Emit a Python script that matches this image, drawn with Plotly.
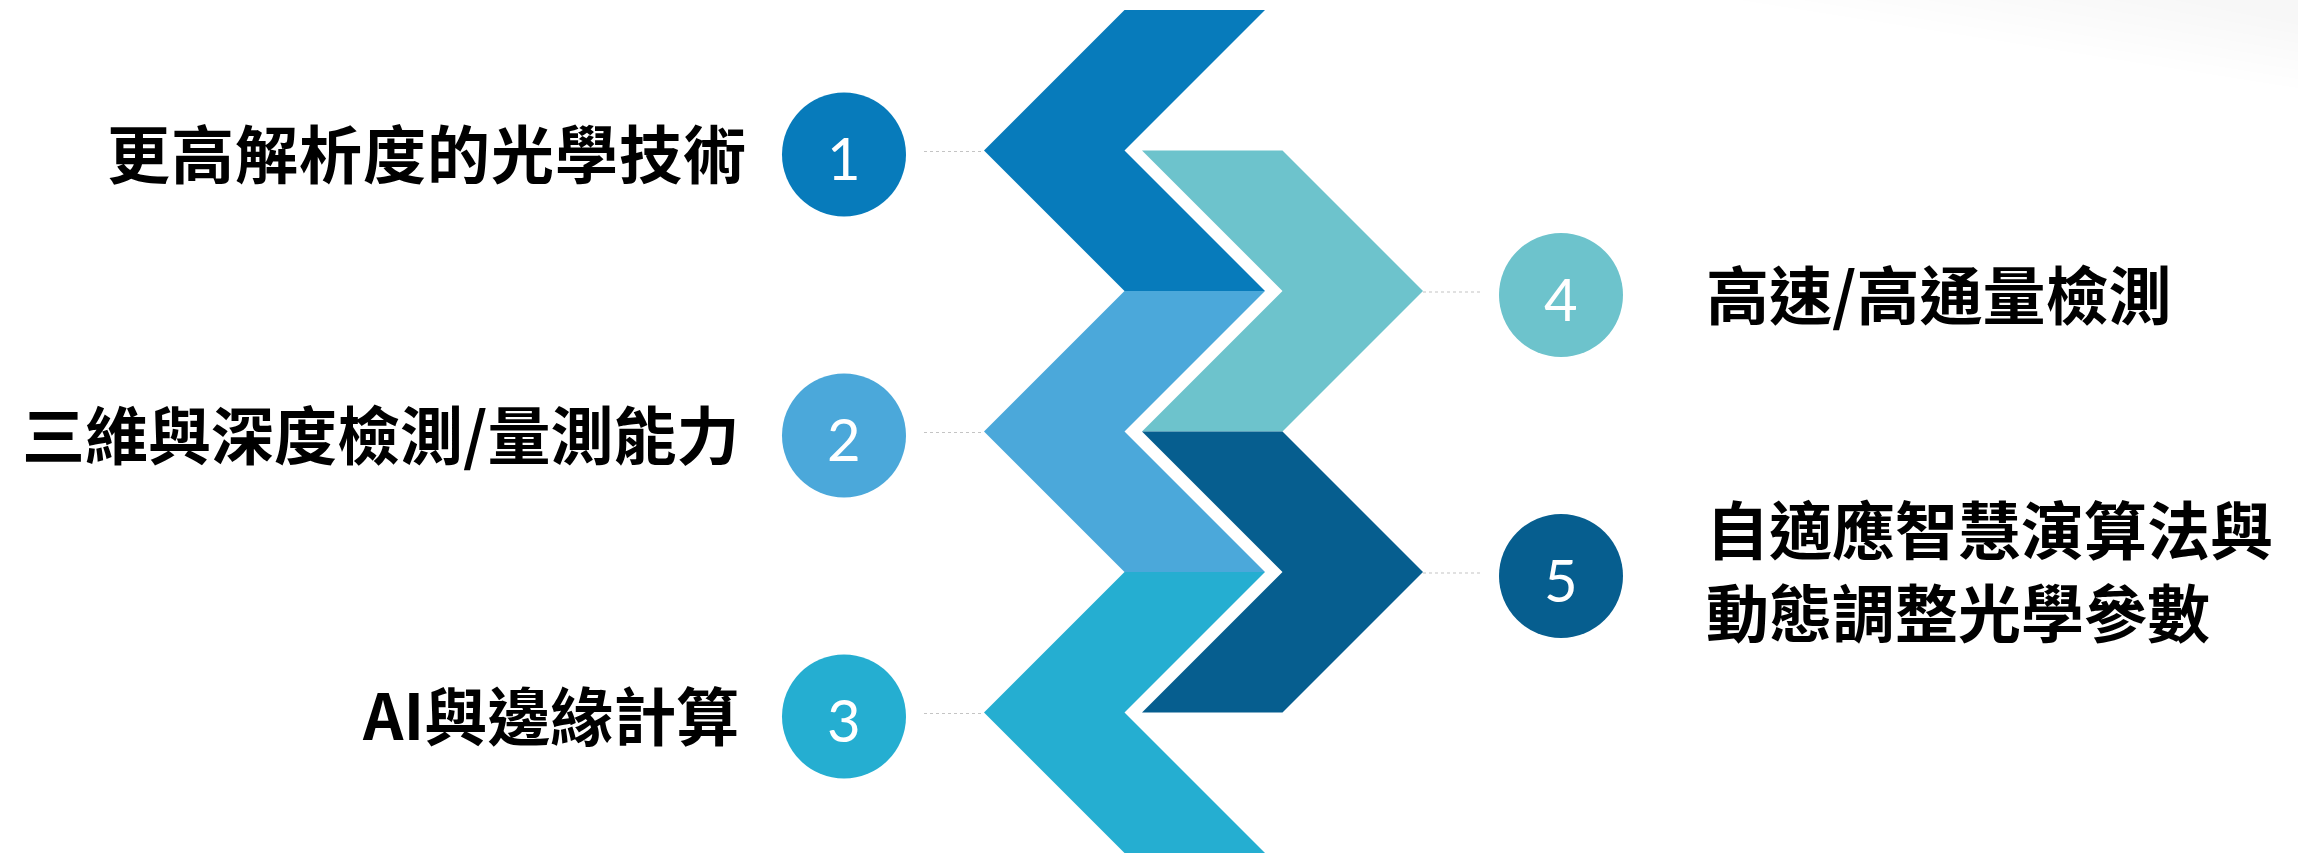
import plotly.graph_objects as go

# ---------------- data ----------------
step_numbers = ["1", "2", "3", "4", "5"]
step_labels = [
    "更高解析度的光學技術",
    "三維與深度檢測/量測能力",
    "AI與邊緣計算",
    "高速/高通量檢測",
    "自適應智慧演算法與<br>動態調整光學參數",
]
step_sides = ["left", "left", "left", "right", "right"]
step_slots = [0, 2, 4, 1, 3]          # vertical zig-zag slot of each step
step_colors = ["#077BBB", "#4BA8DA", "#25AED1", "#6DC3CC", "#065E8F"]

# ---------------- layout constants ----------------
W_PX, H_PX = 2298, 853
SLOT_Y0 = 150.5      # y of first chevron tip
SLOT_DY = 140.5      # vertical distance between zig-zag slots
ARM = 140.5          # chevron arm width / half height
LEFT_TIP_X = 984
RIGHT_TIP_X = 1423
LEFT_CIRCLE_X = 844
RIGHT_CIRCLE_X = 1561
LEFT_LINE_X0 = 924
RIGHT_LINE_X1 = 1481
LEFT_TEXT_X = 741
RIGHT_TEXT_X = 1704
LINE_GAP = 83        # line pitch of two-line labels

CJK = "Noto Sans CJK TC, Noto Sans CJK SC, sans-serif"
LABEL_FONT = dict(family=CJK, size=63, color="#000000", weight="bold")

fig = go.Figure()

# faint grey sheen in the top-right corner of the slide
for k in range(8):
    x0 = 1740 + k * 62
    h = 88 - k * 9
    fig.add_shape(type="path", xref="x", yref="y", layer="below",
                  path=f"M {x0},0 L {W_PX},0 L {W_PX},{h} Z",
                  fillcolor="rgba(110,110,135,0.009)", line=dict(width=0))

for num, lab, side, slot, col in zip(step_numbers, step_labels, step_sides, step_slots, step_colors):
    ty = SLOT_Y0 + slot * SLOT_DY
    if side == "left":
        t = LEFT_TIP_X
        xs = [t + ARM, t + 2 * ARM, t + ARM, t + 2 * ARM, t + ARM, t, t + ARM]
        ys = [ty - ARM, ty - ARM, ty, ty + ARM, ty + ARM, ty, ty - ARM]
        lx = [LEFT_LINE_X0, t]
        cx = LEFT_CIRCLE_X
    else:
        t = RIGHT_TIP_X
        xs = [t - 2 * ARM, t - ARM, t, t - ARM, t - 2 * ARM, t - ARM, t - 2 * ARM]
        ys = [ty - ARM, ty - ARM, ty, ty + ARM, ty + ARM, ty, ty - ARM]
        lx = [t, RIGHT_LINE_X1]
        cx = RIGHT_CIRCLE_X
    # chevron
    fig.add_trace(go.Scatter(x=xs, y=ys, mode="lines", fill="toself",
                             fillcolor=col, line=dict(width=0, color=col),
                             hoverinfo="skip", showlegend=False))
    # dotted connector
    fig.add_trace(go.Scatter(x=lx, y=[ty + 1, ty + 1], mode="lines",
                             line=dict(color="#C4C4C4", width=1.2, dash="dot"),
                             hoverinfo="skip", showlegend=False))
    # numbered circle
    fig.add_trace(go.Scatter(x=[cx], y=[ty + 4], mode="markers",
                             marker=dict(size=124, color=col, line=dict(width=0)),
                             hoverinfo="skip", showlegend=False))
    fig.add_annotation(x=cx, y=ty + 4, text=num, showarrow=False,
                       xanchor="center", yanchor="middle", yshift=-3,
                       font=dict(family="Lato, Open Sans, sans-serif", size=58, color="white"))
    # label
    if side == "left":
        txt = lab
        xsh = 0
        if slot == 0:
            txt = '<span style="letter-spacing:1px">' + lab + '</span>'
            xsh = 8
        fig.add_annotation(x=LEFT_TEXT_X, y=ty, text=txt, showarrow=False, xshift=xsh,
                           xanchor="right", yanchor="middle", align="right", font=LABEL_FONT)
    else:
        lines = lab.split("<br>")
        n = len(lines)
        yc = ty - (4 if n > 1 else 0)
        for i, line in enumerate(lines):
            fig.add_annotation(x=RIGHT_TEXT_X, y=yc + (i - (n - 1) / 2) * LINE_GAP, text=line,
                               showarrow=False, xanchor="left", yanchor="middle", align="left",
                               font=LABEL_FONT)

fig.update_xaxes(range=[0, W_PX], visible=False, fixedrange=True)
fig.update_yaxes(range=[H_PX, 0], visible=False, fixedrange=True)
fig.update_layout(width=W_PX, height=H_PX, margin=dict(l=0, r=0, t=0, b=0),
                  paper_bgcolor="white", plot_bgcolor="white", showlegend=False)

fig.write_html("out.html", config={"displayModeBar": False},
               post_script="document.body.style.margin='0px';")
